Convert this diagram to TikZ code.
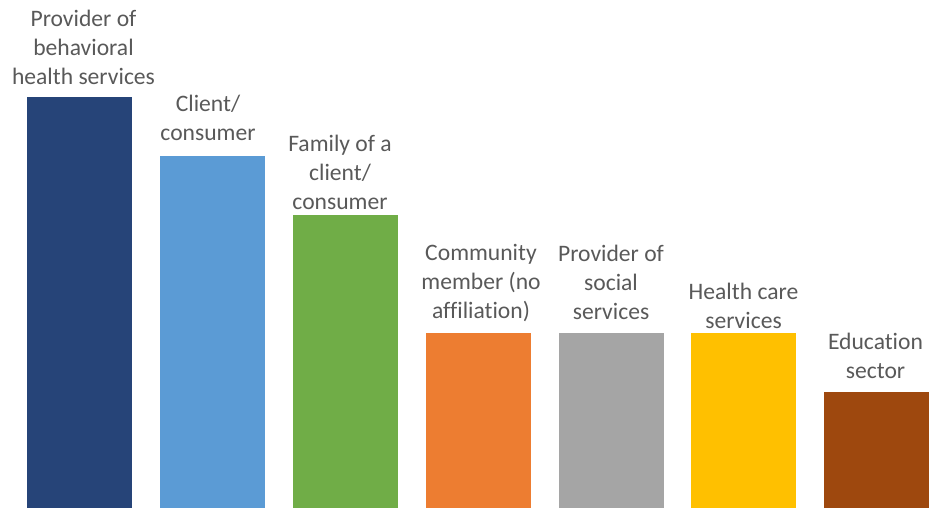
\documentclass[tikz,border=0pt]{standalone}
\usepackage{fontspec}
\setmainfont[Ligatures=CommonOff]{Carlito}
\definecolor{cA}{HTML}{264478}
\definecolor{cB}{HTML}{5B9BD5}
\definecolor{cC}{HTML}{70AD47}
\definecolor{cD}{HTML}{ED7D31}
\definecolor{cE}{HTML}{A5A5A5}
\definecolor{cF}{HTML}{FFC000}
\definecolor{cG}{HTML}{9E480E}
\definecolor{labtxt}{HTML}{595959}
\tikzset{
  lab/.style={align=center, inner sep=0pt, anchor=base, text=labtxt,
    font=\fontsize{23.6}{29}\selectfont},
}
\begin{document}
\begin{tikzpicture}[x=1pt,y=-1pt]
\useasboundingbox (0,0) rectangle (929,508);
% bars
\fill[cA] (27,97) rectangle (132,508);
\fill[cB] (160,156) rectangle (265,508);
\fill[cC] (293,215) rectangle (398,508);
\fill[cD] (426,333) rectangle (531,508);
\fill[cE] (559,333) rectangle (664,508);
\fill[cF] (691,333) rectangle (796,508);
\fill[cG] (824,392) rectangle (929,508);
% labels (anchored at the baseline of their last line)
\node[lab] (l1) at (83.5,85) {Provider of\\behavioral\\health services};
\node[lab] (l2) at (208,140.3) {Client/\\consumer};
\node[lab] (l3) at (340,209.5) {Family of a\\client/\\consumer};
\node[lab] (l4) at (481,318) {Community\\member (no\\affiliation)};
\node[lab] (l5) at (611,319.3) {Provider of\\social\\services};
\node[lab] (l6) at (743.5,328.8) {Health care\\services};
\node[lab] (l7) at (875.5,378.5) {Education\\sector};
\end{tikzpicture}
\end{document}
